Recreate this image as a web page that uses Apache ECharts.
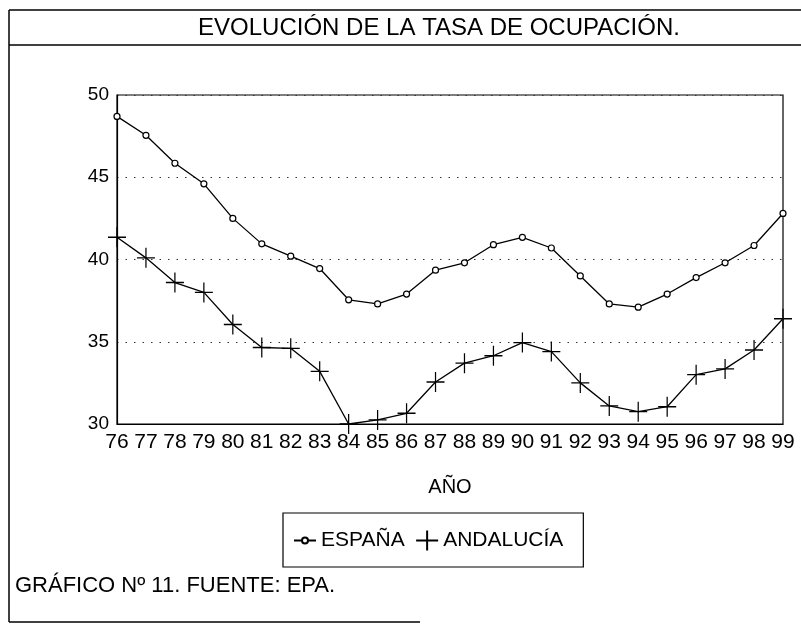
<!DOCTYPE html>
<html>
<head>
<meta charset="utf-8">
<script src="https://cdn.jsdelivr.net/npm/echarts@6/dist/echarts.min.js"></script>
<style>
  html, body { margin: 0; padding: 0; background: #fff; }
  #chart { width: 801px; height: 630px; }
</style>
</head>
<body>
<div id="chart"></div>
<script>
var years = ['76', '77', '78', '79', '80', '81', '82', '83', '84', '85', '86', '87',
  '88', '89', '90', '91', '92', '93', '94', '95', '96', '97', '98', '99']
var espana = [48.7, 47.55, 45.85, 44.6, 42.5, 40.95, 40.2, 39.45, 37.55, 37.3, 37.9, 39.35,
  39.8, 40.9, 41.35, 40.7, 39.0, 37.3, 37.1, 37.9, 38.9, 39.8, 40.85, 42.8]
var andalucia = [41.35, 40.1, 38.6, 38.0, 36.05, 34.65, 34.6, 33.2, 30.0, 30.25, 30.65, 32.55,
  33.7, 34.15, 34.95, 34.4, 32.5, 31.1, 30.75, 31.05, 33.0, 33.35, 34.5, 36.4]
var yTicks = { min: 30, max: 50, step: 5 }

var font = 'Liberation Sans, Arial, sans-serif'
var plus = 'path://M10,0 L10,20 M0,10 L20,10'
// iconos de la leyenda: línea con círculo pequeño / cruz
var iconEspana = 'path://M0,10 L8,10 M14,10 L22,10 M14,10 A3,3 0 1 1 8,10 A3,3 0 1 1 14,10 Z M0,0 L0,0.01 M0,20 L0,20.01'
var iconAndalucia = 'path://M11,0 L11,20 M0,10 L22,10'

var chart = echarts.init(document.getElementById('chart'))

var option = {
  backgroundColor: '#fff',
  animation: false,
  textStyle: { fontFamily: font, color: '#000' },
  title: {
    text: 'EVOLUCIÓN DE LA TASA DE OCUPACIÓN.',
    left: 434,
    textAlign: 'center',
    top: 11,
    textStyle: { fontSize: 24, fontWeight: 'normal', color: '#000', fontFamily: font }
  },
  // marco de la figura
  graphic: [
    { type: 'line', shape: { x1: 9, y1: 10, x2: 801, y2: 10 }, style: { stroke: '#000', lineWidth: 1.5 } },
    { type: 'line', shape: { x1: 9, y1: 45, x2: 801, y2: 45 }, style: { stroke: '#000', lineWidth: 1.5 } },
    { type: 'line', shape: { x1: 9, y1: 10, x2: 9, y2: 622 }, style: { stroke: '#000', lineWidth: 1.5 } },
    { type: 'line', shape: { x1: 9, y1: 622, x2: 420, y2: 622 }, style: { stroke: '#000', lineWidth: 1.5 } },
    {
      type: 'text', left: 15, top: 575,
      style: { text: 'GRÁFICO Nº 11. FUENTE: EPA.', font: '22px ' + font, fill: '#000' }
    }
  ],
  legend: {
    left: 283,
    top: 513,
    orient: 'horizontal',
    padding: [15, 20, 14, 10],
    itemGap: 9,
    itemWidth: 22,
    itemHeight: 20,
    borderColor: '#000',
    borderWidth: 1.2,
    textStyle: { fontSize: 21, color: '#000', fontFamily: font },
    data: [
      { name: 'ESPAÑA', icon: iconEspana },
      { name: 'ANDALUCÍA', icon: iconAndalucia }
    ]
  },
  grid: {
    left: 117,
    right: 18,
    top: 95,
    bottom: 206,
    show: true,
    borderColor: '#000',
    borderWidth: 1.2
  },
  xAxis: {
    type: 'category',
    data: years,
    boundaryGap: false,
    name: 'AÑO',
    nameLocation: 'middle',
    nameGap: 53,
    nameTextStyle: { fontSize: 20, color: '#000', fontFamily: font },
    axisLine: { lineStyle: { color: '#000', width: 1.2 } },
    axisTick: { show: false },
    axisLabel: { fontSize: 21, color: '#000', margin: 8, interval: 0, fontFamily: font },
    splitLine: { show: false }
  },
  yAxis: {
    type: 'value',
    min: yTicks.min,
    max: yTicks.max,
    interval: yTicks.step,
    axisLine: { show: true, lineStyle: { color: '#000', width: 1.2 } },
    axisTick: { show: false },
    axisLabel: { fontSize: 19, color: '#000', margin: 8, fontFamily: font },
    splitLine: {
      show: true,
      lineStyle: { color: '#333', type: [1.5, 7], width: 1.2 }
    }
  },
  series: [
    {
      name: 'ESPAÑA',
      type: 'line',
      data: espana,
      symbol: 'circle',
      symbolSize: 6,
      lineStyle: { color: '#000', width: 1.3 },
      itemStyle: { color: '#fff', borderColor: '#000', borderWidth: 1.2 }
    },
    {
      name: 'ANDALUCÍA',
      type: 'line',
      data: andalucia,
      symbol: plus,
      symbolSize: [18, 20],
      lineStyle: { color: '#000', width: 1.3 },
      itemStyle: { color: 'none', borderColor: '#000', borderWidth: 1.3 }
    }
  ]
}

chart.setOption(option)
</script>
</body>
</html>
